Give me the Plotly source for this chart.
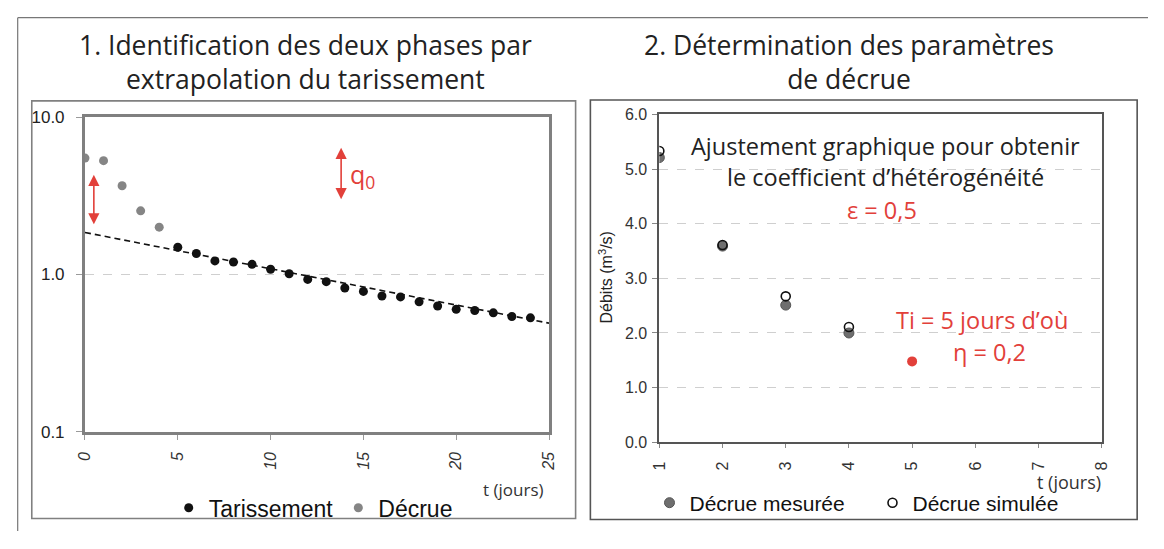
import plotly.graph_objects as go

# ---------------- data ----------------
# Panel 1: semi-log recession
decrue_t = [0, 1, 2, 3, 4]
decrue_q = [5.5, 5.3, 3.67, 2.54, 2.0]
tariss_t = [5, 6, 7, 8, 9, 10, 11, 12, 13, 14, 15, 16, 17, 18, 19, 20, 21, 22, 23, 24]
tariss_q = [1.49, 1.36, 1.22, 1.20, 1.16, 1.08, 1.01, 0.93, 0.90, 0.82, 0.78, 0.73,
            0.72, 0.67, 0.63, 0.60, 0.59, 0.57, 0.54, 0.53]
fit_t = [0, 25]
fit_q = [1.85, 0.49]
y1_tickvals = [0.1, 1, 10]
y1_ticktext = ["0.1", "1.0", "10.0"]

# Panel 2: measured vs simulated recession
mes_t = [1, 2, 3, 4]
mes_q = [5.21, 3.59, 2.51, 2.0]
ti_t = [5]
ti_q = [1.48]
sim_t = [1, 2, 3, 4]
sim_q = [5.33, 3.61, 2.67, 2.11]

# page has the browser's default 8px body margin -> figure is 16px smaller
PAGE_W, PAGE_H = 1164, 549
OFF = 8
W, H = PAGE_W - 2 * OFF, PAGE_H - 2 * OFF
def X(px):
    return (px - OFF) / W
def Y(py):
    return 1 - (py - OFF) / H

RED = "#e2403a"
TXT = "#222222"
TITLE_FONT = "Open Sans"
AX_FONT = "Liberation Sans"

fig = go.Figure()

# panel 1 traces
fig.add_trace(go.Scatter(x=fit_t, y=fit_q, mode="lines", showlegend=False,
                         line=dict(color="#111111", width=1.6, dash="6px,4px"),
                         xaxis="x", yaxis="y", hoverinfo="skip"))
fig.add_trace(go.Scatter(x=tariss_t, y=tariss_q, mode="markers", name="Tarissement",
                         marker=dict(color="#111111", size=9),
                         xaxis="x", yaxis="y", legend="legend"))
fig.add_trace(go.Scatter(x=decrue_t, y=decrue_q, mode="markers", name="Décrue",
                         marker=dict(color="#858585", size=9),
                         xaxis="x", yaxis="y", legend="legend"))

# panel 2 traces
fig.add_trace(go.Scatter(x=mes_t, y=mes_q, mode="markers", name="Décrue mesurée",
                         marker=dict(color="#6e6e6e", size=10, line=dict(color="#555555", width=1)),
                         xaxis="x2", yaxis="y2", legend="legend2"))
fig.add_trace(go.Scatter(x=ti_t, y=ti_q, mode="markers", showlegend=False,
                         marker=dict(color=RED, size=10),
                         xaxis="x2", yaxis="y2"))
fig.add_trace(go.Scatter(x=sim_t, y=sim_q, mode="markers", name="Décrue simulée",
                         marker=dict(symbol="circle-open", color="#111111", size=9,
                                     line=dict(width=1.6)),
                         xaxis="x2", yaxis="y2", legend="legend2"))

axfont = dict(family=AX_FONT, size=16, color="#333333")

fig.update_layout(
    width=W, height=H, autosize=False,
    margin=dict(l=0, r=0, t=0, b=0),
    paper_bgcolor="white", plot_bgcolor="white",
    xaxis=dict(domain=[X(77), X(548)], range=[0, 25], dtick=5, tick0=0,
               tickangle=-90, tickfont=dict(family=AX_FONT, size=16, color="#333333", style="italic"),
               ticklabelstandoff=6,
               showgrid=False, zeroline=False,
               showline=True, mirror=True, linecolor="#808080", linewidth=3,
               ticks="outside", ticklen=5, tickcolor="#9a9a9a", anchor="y"),
    yaxis=dict(domain=[Y(438), Y(112)], type="log", range=[-1, 1],
               tickvals=y1_tickvals, ticktext=y1_ticktext,
               tickfont=dict(family=AX_FONT, size=17, color="#222222"),
               ticklabelstandoff=8,
               showgrid=True, gridcolor="#cfcfcf", griddash="dash", gridwidth=1,
               zeroline=False,
               showline=True, mirror=True, linecolor="#808080", linewidth=3,
               ticks="outside", ticklen=6, tickcolor="#9a9a9a", anchor="x"),
    xaxis2=dict(domain=[X(660), X(1109)], range=[1, 8], dtick=1, tick0=1,
                tickangle=-90, tickfont=axfont, ticklabelstandoff=7,
                showgrid=False, zeroline=False,
                showline=True, mirror=True, linecolor="#555555", linewidth=2,
                ticks="outside", ticklen=4, tickcolor="#888888", anchor="y2"),
    yaxis2=dict(domain=[Y(449), Y(109)], range=[0, 6], dtick=1, tick0=0, tickformat=".1f",
                tickfont=axfont, ticklabelstandoff=2,
                showgrid=True, gridcolor="#cfcfcf", griddash="dash", gridwidth=1,
                zeroline=False,
                showline=True, mirror=True, linecolor="#555555", linewidth=2,
                ticks="outside", ticklen=5, tickcolor="#888888", anchor="x2"),
    legend=dict(orientation="h", x=X(162), y=Y(517), xanchor="left", yanchor="middle",
                font=dict(family=AX_FONT, size=23, color="#111111"),
                bgcolor="rgba(0,0,0,0)", itemwidth=30, tracegroupgap=0),
    legend2=dict(orientation="h", x=X(650), y=Y(512), xanchor="left", yanchor="middle",
                 font=dict(family=AX_FONT, size=21, color="#111111"),
                 bgcolor="rgba(0,0,0,0)", itemwidth=30, entrywidth=178),
)

shapes = [
    # outer frame (left and top edges visible)
    dict(type="line", xref="paper", yref="paper", x0=0.7 / W, x1=0.7 / W, y0=1 - 0.7 / H, y1=0,
         line=dict(color="#777777", width=1.2), layer="below"),
    dict(type="line", xref="paper", yref="paper", x0=0.7 / W, x1=1, y0=1 - 0.7 / H, y1=1 - 0.7 / H,
         line=dict(color="#777777", width=1.2), layer="below"),
    # panel boxes
    dict(type="rect", xref="paper", yref="paper", x0=X(23), x1=X(575), y0=Y(95), y1=Y(528),
         line=dict(color="#808080", width=1.6), layer="below"),
    dict(type="rect", xref="paper", yref="paper", x0=X(590), x1=X(1145), y0=Y(94), y1=Y(529),
         line=dict(color="#555555", width=1.6), layer="below"),
]
fig.update_layout(shapes=shapes)

ann = []
def txt(s, px, py, size, color=TXT, family=TITLE_FONT, xanchor="center", **kw):
    ann.append(dict(text=s, x=X(px), y=Y(py), xref="paper", yref="paper", showarrow=False,
                    xanchor=xanchor, yanchor="middle",
                    font=dict(family=family, size=size, color=color), **kw))

txt("1. Identification des deux phases par<br>extrapolation du tarissement", 301, 55, 26.5)
txt("2. Détermination des paramètres<br>de décrue", 853, 55, 26.5)

txt("Ajustement graphique pour obtenir", 890, 142, 23.5)
txt("le coefficient d’hétérogénéité", 890, 174, 23.5)
txt("ε = 0,5", 886, 208, 23.5, color=RED)
txt("Ti = 5 jours d’où", 988, 322, 23.5, color=RED)
txt("η = 0,2", 995, 355, 23.5, color=RED)

txt("q<sub>0</sub>", 344, 172, 25, color=RED, xanchor="left")

txt("t (jours)", 545, 498, 17, color="#333333", xanchor="right")
txt("t (jours)", 1110, 490, 18, color="#333333", xanchor="right")

ann.append(dict(text="Débits (m<sup>3</sup>/s)", x=X(606), y=Y(278), xref="paper", yref="paper",
                showarrow=False, textangle=-90, xanchor="center", yanchor="middle",
                font=dict(family=AX_FONT, size=16, color="#222222")))

# double-headed arrows
for (px, py_top, py_bot) in [(86, 172, 223), (337, 144, 197)]:
    ann.append(dict(text="", x=X(px), y=Y(py_bot), xref="paper", yref="paper",
                    ax=0, ay=-(py_bot - py_top), axref="pixel", ayref="pixel",
                    showarrow=True, arrowhead=2, arrowside="end+start",
                    arrowsize=1.4, arrowwidth=1.6, arrowcolor=RED))

fig.update_layout(annotations=ann)

fig.write_html("out.html", config={"displayModeBar": False, "responsive": False})
